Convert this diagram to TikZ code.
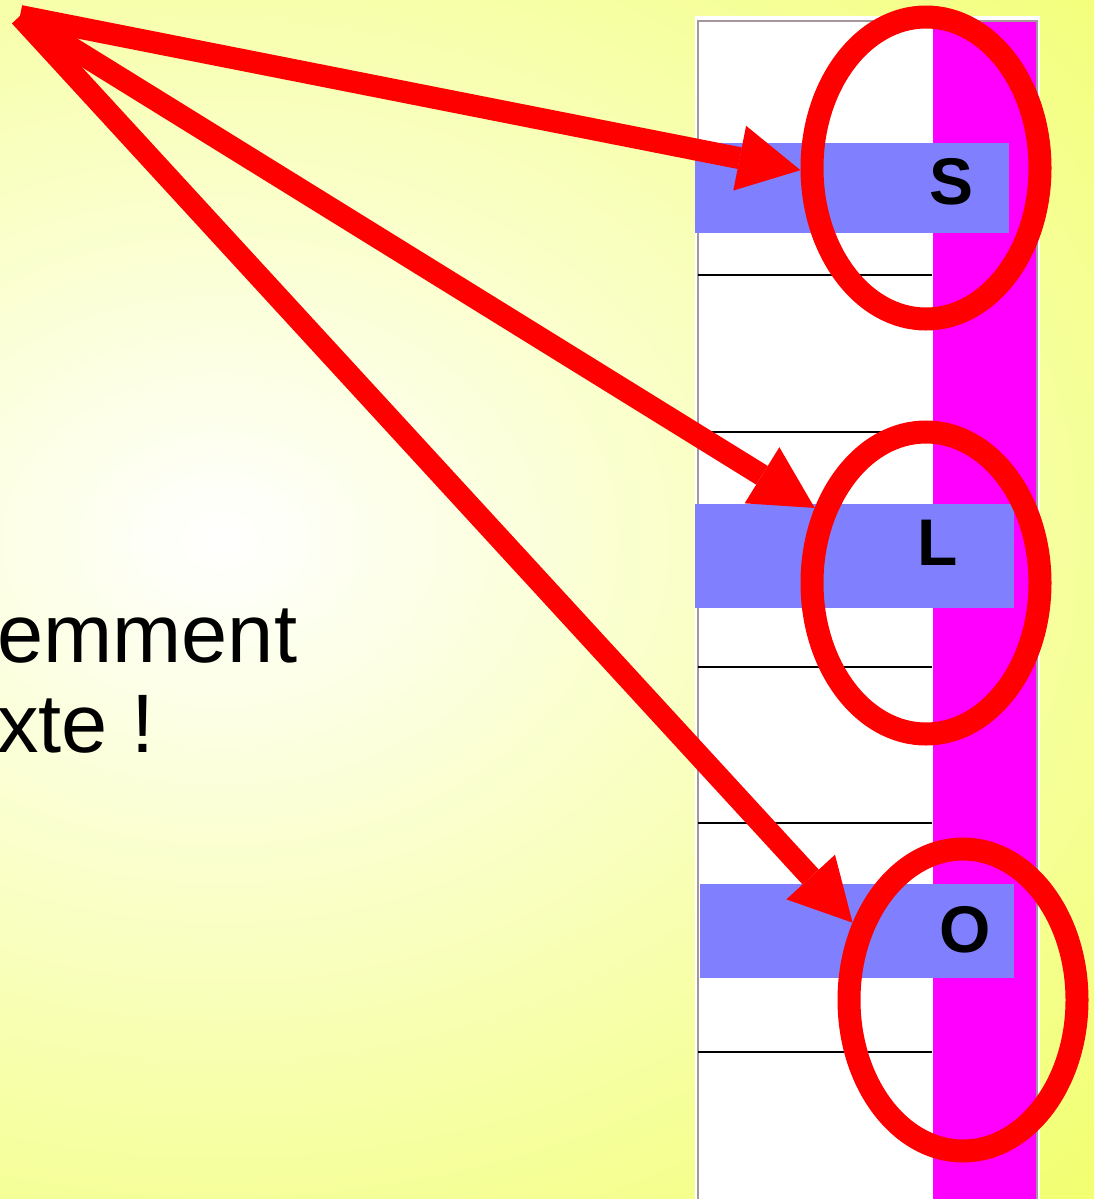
\documentclass[tikz,border=0pt]{standalone}
\usepackage{fontspec}
\setmainfont{Liberation Sans}
\usetikzlibrary{shapes.geometric, arrows.meta, positioning}

\definecolor{bgyellow}{RGB}{236,255,56}
\definecolor{barblue}{RGB}{128,128,255}
\definecolor{colmagenta}{RGB}{255,0,255}
\definecolor{framegray}{RGB}{165,150,155}

\begin{document}
\begin{tikzpicture}[
    x=0.5pt, y=-0.5pt,
    ring/.style={ellipse, draw=red, line width=11.5pt, minimum width=114pt, minimum height=151pt, inner sep=0pt},
    pointer/.style={-{Triangle[length=31pt, width=33pt, line width=0pt]}, draw=red, line width=11pt},
    letter/.style={font=\bfseries\fontsize{33}{33}\selectfont, inner sep=0pt},
    bigtext/.style={anchor=base west, inner sep=0pt, font=\fontsize{41.5}{41.5}\selectfont},
    bar/.style={fill=barblue},
    rule/.style={draw=black, line width=0.75pt}
]
\useasboundingbox (0,0) rectangle (1094,1199);

% Background
\begin{scope}
\clip (0,0) rectangle (1094,1199);
\shade[inner color=white, outer color=bgyellow] (-1480,-760) rectangle (1920,1840);
\end{scope}

% Text (cut at the left)
\node[bigtext] (lineA) at (-3,662) {emment};
\node[bigtext] (lineB) at (-3,752) {xte !};

% Column
\fill[white] (695,16) rectangle (1040,1199);
\fill[colmagenta] (933,21) rectangle (1037,1199);
\draw[framegray, line width=0.8pt] (698,1199) -- (698,21) -- (1037,21) -- (1037,1199);
\foreach \y in {275, 432, 667, 823, 1052}
    \draw[rule] (698,\y) -- (932,\y);

% Blue bars and letters
\fill[bar] (695,143) rectangle (1009,233);
\fill[bar] (695,504) rectangle (1014,608);
\fill[bar] (700,884) rectangle (1014,978);
\node[letter] (labS) at (951,182) {S};
\node[letter] (labL) at (938,543) {L};
\node[letter] (labO) at (965,930) {O};

% Red rings
\node[ring] (ringS) at (926,168) {};
\node[ring] (ringL) at (926,583) {};
\node[ring] (ringO) at (963,1000) {};

% Arrows
\coordinate (src) at (20,16);
\draw[pointer] (src) -- (ringS.181);
\draw[pointer] (src) -- (ringL.146);
\draw[pointer] (src) -- (ringO.145);

\end{tikzpicture}
\end{document}
